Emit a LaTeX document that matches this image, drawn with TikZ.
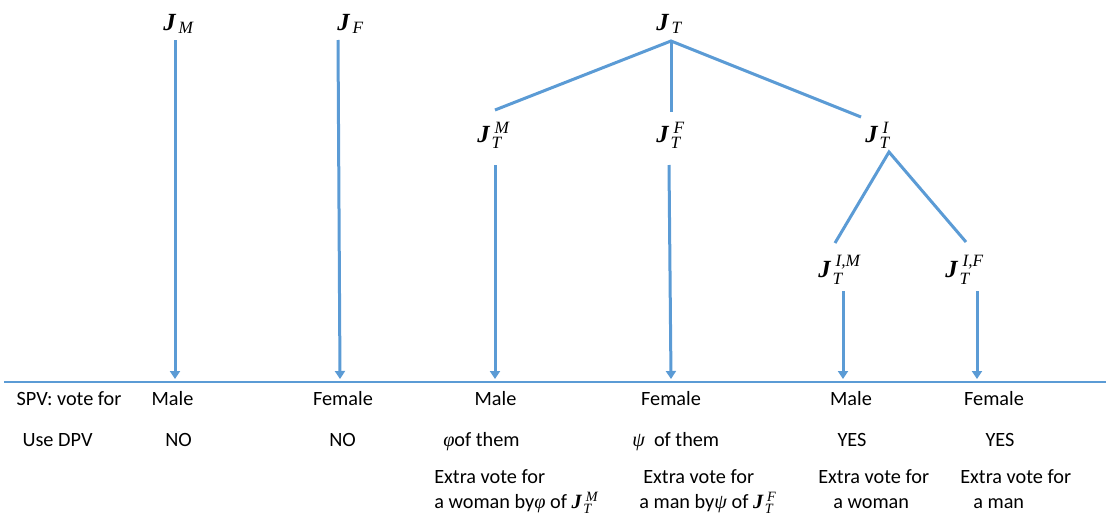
\documentclass[tikz,border=0pt]{standalone}
\usepackage{amsmath}
\usepackage{fontspec}
\setmainfont{Carlito}
\newfontfamily\tnr{Liberation Serif}
\usetikzlibrary{arrows.meta}
\definecolor{lb}{HTML}{5B9BD5}
\newcommand{\Jsub}[1]{$\text{\tnr\bfseries\itshape J}\kern0.12em_{\text{\tnr\itshape #1}}$}
\newcommand{\Jss}[2]{$\text{\tnr\bfseries\itshape J}\kern0.08em_{\text{\tnr\itshape #1}}^{\kern0.12em\text{\tnr\itshape #2}}$}
\newcommand{\gk}[1]{{\tnr\itshape #1}}
\begin{document}
\begin{tikzpicture}[x=0.75pt,y=-0.75pt,
  conn/.style={draw=lb,line width=2.25pt},
  arr/.style={conn,-{Triangle[width=7.5pt,length=6pt]}},
  rule/.style={draw=lb,line width=0.8pt},
  jl/.style={font=\fontsize{18.5}{22}\selectfont,inner sep=0pt,anchor=base west},
  txt/.style={font=\fontsize{15.2}{18}\selectfont,inner sep=0pt,anchor=base},
  txtw/.style={font=\fontsize{15.2}{18}\selectfont,inner sep=0pt,anchor=base west}]
\useasboundingbox (0,0) rectangle (1106,521);
% top labels
\node[jl] (JM) at (163,30) {\Jsub{M}};
\node[jl] (JF) at (337,30) {\Jsub{F}};
\node[jl] (JT) at (656,30) {\Jsub{T}};
\node[jl] (JTM) at (477,142) {\Jss{T}{M}};
\node[jl] (JTF) at (656,142) {\Jss{T}{F}};
\node[jl] (JTI) at (865,142) {\Jss{T}{I}};
\node[jl] (JTIM) at (818,277) {\Jss{T}{I,M}};
\node[jl] (JTIF) at (945,277) {\Jss{T}{I,F}};
% connector end points
\coordinate (jmA) at (175,40);  \coordinate (jmB) at (175,379);
\coordinate (jfA) at (338,40);  \coordinate (jfB) at (340,379);
\coordinate (jtA) at (671,41);
\coordinate (jtL) at (495,110); \coordinate (jtC) at (671,112); \coordinate (jtR) at (861,117);
\coordinate (tmA) at (495,165); \coordinate (tmB) at (495,379);
\coordinate (tfA) at (669,165); \coordinate (tfB) at (671,379);
\coordinate (tiA) at (889,152);
\coordinate (tiL) at (835,243); \coordinate (tiR) at (966,242);
\coordinate (imA) at (843,291); \coordinate (imB) at (843,379);
\coordinate (ifA) at (977,291); \coordinate (ifB) at (977,379);
\coordinate (ruleL) at (4,382); \coordinate (ruleR) at (1106,382);
% connectors
\draw[arr] (jmA) -- (jmB);
\draw[arr] (jfA) -- (jfB);
\draw[conn] (jtL) -- (jtA) -- (jtR);
\draw[conn] (jtA) -- (jtC);
\draw[arr] (tmA) -- (tmB);
\draw[arr] (tfA) -- (tfB);
\draw[conn] (tiL) -- (tiA) -- (tiR);
\draw[arr] (imA) -- (imB);
\draw[arr] (ifA) -- (ifB);
\draw[rule] (ruleL) -- (ruleR);
% row 1
\node[txt] (r1a) at (69,405) {SPV: vote for};
\node[txt] (r1b) at (172.5,405) {Male};
\node[txt] (r1c) at (343,405) {Female};
\node[txt] (r1d) at (495.5,405) {Male};
\node[txt] (r1e) at (671,405) {Female};
\node[txt] (r1f) at (851,405) {Male};
\node[txt] (r1g) at (994,405) {Female};
% row 2
\node[txt] (r2a) at (57.5,446) {Use DPV};
\node[txt] (r2b) at (178.5,446) {NO};
\node[txt] (r2c) at (342.5,446) {NO};
\node[txtw] (r2d) at (443,446) {\gk{φ}of them};
\node[txtw] (r2e) at (632,446) {\gk{ψ}\ \ of them};
\node[txt] (r2f) at (852,446) {YES};
\node[txt] (r2g) at (1000,446) {YES};
% rows 3-4
\node[txtw] (r3d) at (434,483) {Extra vote for};
\node[txtw] (r4d) at (434,508) {a woman by\gk{φ} of \Jss{T}{M}};
\node[txtw] (r3e) at (643,483) {Extra vote for};
\node[txtw] (r4e) at (639,508) {a man by\gk{ψ} of \Jss{T}{F}};
\node[txtw] (r3f) at (818,483) {Extra vote for};
\node[txtw] (r4f) at (833,508) {a woman};
\node[txtw] (r3g) at (960,483) {Extra vote for};
\node[txtw] (r4g) at (973,508) {a man};
\end{tikzpicture}
\end{document}
